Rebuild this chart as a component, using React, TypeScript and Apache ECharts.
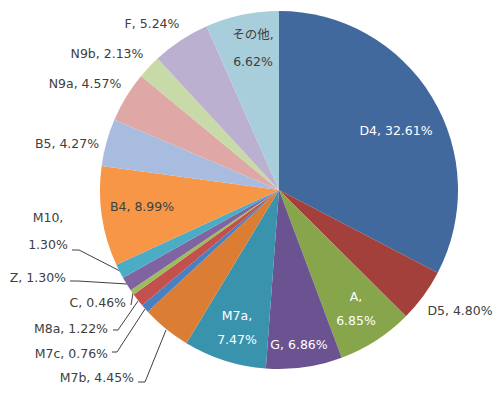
import React, { useEffect, useRef } from "react";
import * as echarts from "echarts";

const categories = ["D4", "D5", "A", "G", "M7a", "M7b", "M7c", "M8a", "C", "Z", "M10", "B4", "B5", "N9a", "N9b", "F", "その他"];
const values = [32.61, 4.8, 6.85, 6.86, 7.47, 4.45, 0.76, 1.22, 0.46, 1.3, 1.3, 8.99, 4.27, 4.57, 2.13, 5.24, 6.62];
const colors = ["#41699E", "#A4403C", "#87A54B", "#6B5290", "#3A93AD", "#DB7E34", "#4A7FC1", "#C3504D", "#9CBD5A", "#8064A2", "#4BACC6", "#F79646", "#A8BCE0", "#DFA8A6", "#C8DAA8", "#BCB0D0", "#A8CEDC"];
// labels split onto two lines
const twoLine = ["A", "M7a", "M10", "その他"];
const whiteLabels = ["D4", "A", "G", "M7a"];

// label placement (layout only)
const labelPos: Record<string, { x: number; y: number; align: string; lh?: number; line?: number[][] }> = {
  D4: { x: 396, y: 130, align: "center" },
  D5: { x: 460, y: 310, align: "center" },
  A: { x: 356, y: 308, align: "center", lh: 24 },
  G: { x: 299, y: 344, align: "center" },
  M7a: { x: 237, y: 327, align: "center", lh: 24 },
  M7b: { x: 134, y: 377, align: "right", line: [[166, 330], [145, 382], [138, 382]] },
  M7c: { x: 108, y: 353, align: "right", line: [[145, 309], [117, 352], [112, 352]] },
  M8a: { x: 108, y: 328, align: "right", line: [[138, 301], [118, 330], [113, 330]] },
  C: { x: 126, y: 302, align: "right", line: [[133, 293], [131, 305]] },
  Z: { x: 66, y: 277, align: "right", line: [[127, 284], [78, 281], [70, 281]] },
  M10: { x: 48, y: 231, align: "center", lh: 27, line: [[120, 271], [79, 250], [72, 250]] },
  B4: { x: 142, y: 206, align: "center" },
  B5: { x: 67, y: 143, align: "center" },
  N9a: { x: 85, y: 83, align: "center" },
  N9b: { x: 107, y: 53, align: "center" },
  F: { x: 152, y: 23, align: "center" },
  "その他": { x: 253, y: 48, align: "center", lh: 27 },
};

export default function App() {
  const ref = useRef<HTMLDivElement>(null);
  useEffect(() => {
    if (!ref.current) return;
    const chart = echarts.init(ref.current, null, { renderer: "svg" });
    const data = categories.map((name, i) => {
      const p = labelPos[name];
      return {
        name,
        value: values[i],
        itemStyle: { color: colors[i] },
        label: {
          color: whiteLabels.includes(name) ? "#FFFFFF" : "#404040",
          lineHeight: p.lh ?? 15,
        },
        labelLine: { show: !!p.line },
      };
    });
    chart.setOption({
      animation: false,
      backgroundColor: "#FFFFFF",
      series: [
        {
          type: "pie",
          center: [279, 190],
          radius: 179,
          startAngle: 90,
          clockwise: true,
          avoidLabelOverlap: false,
          data,
          label: {
            show: true,
            position: "outside",
            fontFamily: "DejaVu Sans, 'Noto Sans CJK JP', sans-serif",
            fontSize: 12.5,
            color: "#404040",
            formatter: (params: any) => {
              const v = Number(params.value).toFixed(2) + "%";
              return twoLine.includes(params.name) ? `${params.name},\n${v}` : `${params.name}, ${v}`;
            },
          },
          labelLine: {
            show: false,
            lineStyle: { color: "#404040", width: 1 },
          },
          labelLayout: (params: any) => {
            const name = categories[params.dataIndex];
            const p = labelPos[name];
            const out: any = { x: p.x, y: p.y, align: p.align, verticalAlign: "middle" };
            if (p.line) out.labelLinePoints = p.line;
            return out;
          },
          emphasis: { disabled: true },
        },
      ],
    });
    return () => chart.dispose();
  }, []);
  return <div ref={ref} style={{ position: "fixed", left: 0, top: 0, width: 500, height: 395 }} />;
}
